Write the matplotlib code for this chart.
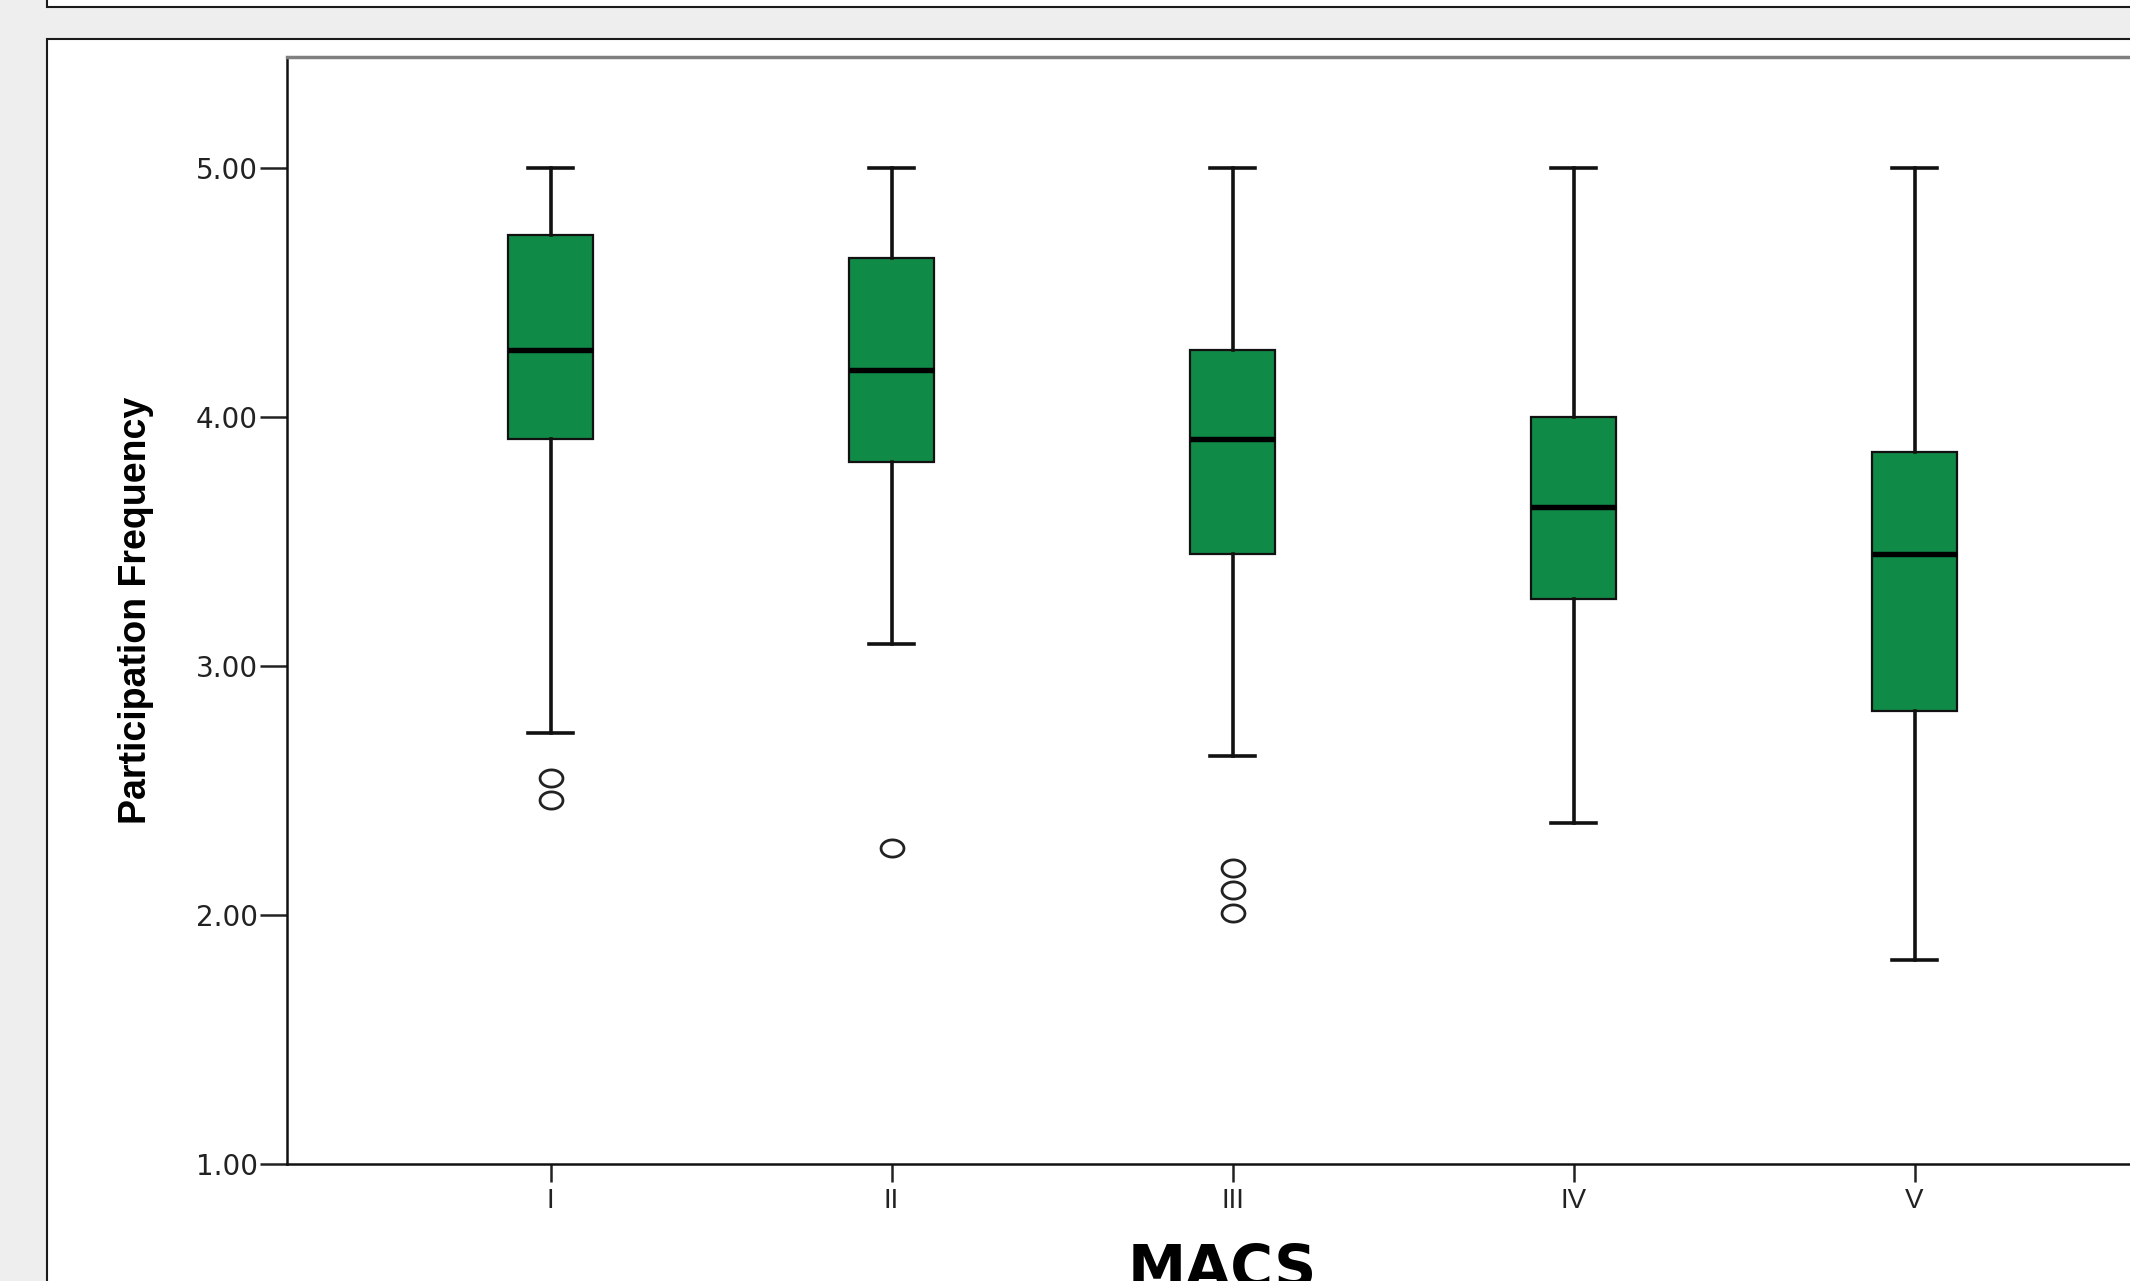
import matplotlib.pyplot as plt
from matplotlib import font_manager
from matplotlib.patches import Rectangle
from matplotlib.path import Path
import numpy as np

# MACS levels and the box statistics
groups = ['I', 'II', 'III', 'IV', 'V']
whisker_low = [2.73, 3.09, 2.64, 2.37, 1.82]
q1 = [3.91, 3.82, 3.45, 3.27, 2.82]
medians = [4.27, 4.19, 3.91, 3.64, 3.45]
q3 = [4.73, 4.64, 4.27, 4.00, 3.86]
whisker_high = [5.00, 5.00, 5.00, 5.00, 5.00]
outliers = [[2.55, 2.46], [2.27], [2.19, 2.10, 2.01], [], []]

yticks = [1.0, 2.0, 3.0, 4.0, 5.0]

installed = {f.name for f in font_manager.fontManager.ttflist}
narrow = 'Liberation Sans Narrow' in installed

W, H = 2130, 1281
fig = plt.figure(figsize=(W / 100, H / 100), dpi=100)
fig.patch.set_facecolor('#eeeeee')

# SPSS output viewer panels (behind the axes)
fig.patches.append(Rectangle((47 / W, -0.05), 1.2, 1.05 - 39 / H, transform=fig.transFigure,
                             facecolor='white', edgecolor='#1a1a1a', linewidth=1.5, zorder=-5))
fig.patches.append(Rectangle((47 / W, 1 - 7 / H), 1.2, 0.1, transform=fig.transFigure,
                             facecolor='white', edgecolor='#1a1a1a', linewidth=1.5, zorder=-5))

x_left, x_right = 0.227, 5.773
ax_w = (x_right - x_left) * 341 / W
ax = fig.add_axes([287 / W, (H - 1164) / H, ax_w, (1164 - 57) / H])
ax.set_facecolor('white')
ax.set_zorder(2)

stats = []
for i, g in enumerate(groups):
    stats.append({'label': g, 'whislo': whisker_low[i], 'q1': q1[i], 'med': medians[i],
                  'q3': q3[i], 'whishi': whisker_high[i], 'fliers': outliers[i]})

# slightly flattened circle for outliers, like SPSS draws them
t = np.linspace(0, 2 * np.pi, 60)
ellipse = Path(np.column_stack([np.cos(t), 0.75 * np.sin(t)]), closed=True)

ax.bxp(stats, positions=range(1, 6), widths=0.25, patch_artist=True,
       boxprops=dict(facecolor='#108a47', edgecolor='#111111', linewidth=1.6),
       medianprops=dict(color='black', linewidth=3.9),
       whiskerprops=dict(color='#111111', linewidth=2.6),
       capprops=dict(color='#111111', linewidth=2.6),
       capwidths=0.13,
       flierprops=dict(marker=ellipse, markersize=16.5, markerfacecolor='none',
                       markeredgecolor='#222222', markeredgewidth=2.0, linestyle='none'))

ax.set_xlim(x_left, x_right)
ax.set_ylim(1.0, 5.446)
ax.set_yticks(yticks)
ax.set_yticklabels(['%.2f' % v for v in yticks])
ax.set_xticks(range(1, 6))
ax.set_xticklabels(groups)

ax.tick_params(axis='y', direction='out', length=19.5, width=1.8, pad=1.5,
               labelsize=20, colors='#222222')
ax.tick_params(axis='x', direction='out', length=13, width=1.8, pad=4.5,
               labelsize=20, colors='#222222')
for lab in ax.get_yticklabels():
    lab.set_fontfamily(['DejaVu Sans'])
for lab in ax.get_xticklabels():
    lab.set_fontfamily(['Liberation Sans', 'DejaVu Sans'])

ax.spines['left'].set_linewidth(1.8)
ax.spines['bottom'].set_linewidth(1.8)
ax.spines['left'].set_color('#111111')
ax.spines['bottom'].set_color('#111111')
ax.spines['top'].set_linewidth(2.5)
ax.spines['top'].set_color('#808080')
ax.spines['right'].set_linewidth(2.5)
ax.spines['right'].set_color('#808080')

if narrow:
    ax.set_ylabel('Participation Frequency', fontsize=32, fontweight='bold',
                  family=['Liberation Sans Narrow', 'DejaVu Sans'])
else:
    ax.set_ylabel('Participation Frequency', fontsize=27, fontweight='bold',
                  family=['Liberation Sans', 'DejaVu Sans'])
ax.yaxis.label.set_va('center')
ax.yaxis.set_label_coords(-0.08, 0.5)

fig.text(1222 / W, 1 - 1242 / H, 'MACS', fontsize=42, fontweight='bold',
         ha='center', va='top', family=['DejaVu Sans'])

fig.savefig('out.png', dpi=100, facecolor=fig.get_facecolor())
